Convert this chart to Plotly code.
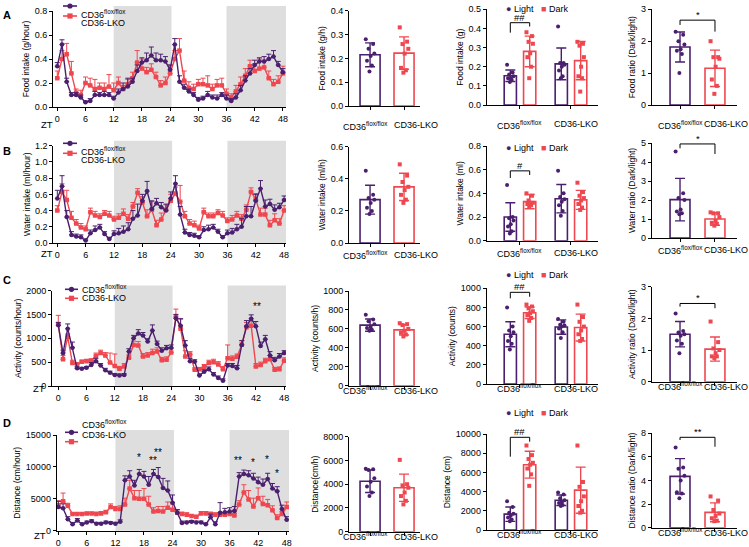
import plotly.graph_objects as go

W, H = 749, 547
PURPLE = "#4a1f6e"
RED = "#ef474f"
SHADE = "#dedede"
FONT = "Liberation Sans, Arial, sans-serif"

# ---------------- time-series data (ZT 0..48) ----------------
ZT = list(range(49))
ZT_TICKS = [0, 6, 12, 18, 24, 30, 36, 42, 48]
DARK_PHASES = [(12, 24), (36, 48)]

FOOD_FLOX = [0.34, 0.52, 0.21, 0.10, 0.10, 0.08, 0.04, 0.05, 0.10, 0.10, 0.10, 0.10,
             0.07, 0.12, 0.15, 0.17, 0.21, 0.30, 0.37, 0.39, 0.43, 0.39, 0.39, 0.38,
             0.31, 0.52, 0.21, 0.16, 0.13, 0.10, 0.06, 0.07, 0.10, 0.08, 0.07, 0.10,
             0.07, 0.05, 0.08, 0.14, 0.22, 0.28, 0.35, 0.38, 0.38, 0.40, 0.42, 0.35, 0.29]
FOOD_FLOX_ERR = [.03, .04, .03, .02, .02, .02, .01, .02, .03, .02, .03, .02,
                 .02, .03, .05, .07, .03, .05, .04, .06, .07, .06, .05, .04,
                 .04, .05, .05, .03, .02, .02, .02, .02, .03, .02, .03, .02,
                 .03, .02, .03, .04, .04, .04, .04, .03, .04, .04, .05, .03, .03]
FOOD_LKO = [0.24, 0.40, 0.44, 0.28, 0.12, 0.10, 0.20, 0.18, 0.15, 0.16, 0.15, 0.17,
            0.14, 0.20, 0.15, 0.19, 0.24, 0.37, 0.32, 0.29, 0.31, 0.25, 0.18, 0.20,
            0.28, 0.40, 0.47, 0.22, 0.16, 0.15, 0.19, 0.19, 0.18, 0.15, 0.18, 0.18,
            0.11, 0.08, 0.13, 0.19, 0.26, 0.34, 0.30, 0.32, 0.33, 0.24, 0.19, 0.21, 0.28]
FOOD_LKO_ERR = [.06, .07, .09, .10, .03, .04, .05, .06, .08, .04, .05, .10,
                .06, .05, .03, .04, .05, .10, .08, .04, .05, .04, .04, .05,
                .07, .07, .10, .08, .05, .04, .04, .05, .08, .04, .05, .06,
                .04, .03, .05, .06, .06, .05, .06, .08, .06, .06, .04, .05, .06]

WATER_FLOX = [0.55, 0.70, 0.32, 0.10, 0.08, 0.07, 0.03, 0.12, 0.16, 0.19, 0.11, 0.05,
              0.11, 0.12, 0.14, 0.17, 0.30, 0.34, 0.52, 0.64, 0.42, 0.49, 0.44, 0.40,
              0.55, 0.73, 0.35, 0.13, 0.10, 0.09, 0.07, 0.16, 0.17, 0.19, 0.14, 0.07,
              0.12, 0.13, 0.17, 0.20, 0.33, 0.33, 0.52, 0.67, 0.45, 0.48, 0.41, 0.44, 0.53]
WATER_FLOX_ERR = [.10, .13, .08, .04, .03, .03, .02, .04, .05, .04, .03, .02,
                  .04, .06, .07, .08, .10, .14, .08, .12, .10, .06, .06, .08,
                  .08, .10, .10, .04, .03, .03, .02, .04, .05, .04, .03, .02,
                  .04, .05, .06, .10, .12, .12, .08, .10, .08, .06, .06, .05, .05]
WATER_LKO = [0.40, 0.63, 0.53, 0.31, 0.24, 0.19, 0.17, 0.38, 0.34, 0.32, 0.36, 0.34,
             0.29, 0.31, 0.36, 0.30, 0.45, 0.62, 0.50, 0.33, 0.41, 0.22, 0.29, 0.41,
             0.52, 0.61, 0.51, 0.33, 0.24, 0.22, 0.18, 0.38, 0.33, 0.33, 0.37, 0.34,
             0.27, 0.29, 0.34, 0.30, 0.41, 0.63, 0.54, 0.35, 0.35, 0.22, 0.28, 0.24, 0.40]
WATER_LKO_ERR = [.06, .10, .12, .08, .05, .05, .04, .05, .05, .04, .04, .05,
                 .04, .05, .06, .05, .05, .05, .07, .08, .10, .06, .08, .06,
                 .08, .08, .20, .06, .05, .05, .04, .05, .04, .04, .04, .05,
                 .04, .05, .05, .05, .06, .05, .07, .08, .08, .06, .08, .06, .06]

ACT_FLOX = [1270, 690, 1200, 800, 370, 360, 380, 440, 520, 430, 330, 280,
            230, 220, 230, 720, 1000, 1100, 1060, 930, 1160, 880, 740, 790,
            800, 1420, 1260, 850, 520, 510, 220, 300, 350, 240, 170, 110,
            430, 420, 370, 860, 1250, 1410, 1250, 840, 980, 640, 540, 620, 690]
ACT_FLOX_ERR = [60, 60, 100, 120, 30, 30, 30, 50, 60, 40, 40, 30,
                30, 30, 30, 60, 60, 80, 60, 60, 120, 60, 60, 60,
                60, 80, 150, 100, 60, 40, 30, 40, 50, 40, 40, 40,
                40, 50, 60, 90, 120, 80, 100, 80, 80, 80, 60, 60, 50]
ACT_LKO = [1300, 560, 1030, 480, 450, 510, 520, 530, 630, 690, 640, 490,
           420, 360, 410, 590, 860, 850, 620, 640, 690, 720, 540, 550,
           700, 1460, 1200, 620, 660, 340, 350, 400, 480, 500, 450, 350,
           580, 570, 610, 870, 1230, 1260, 410, 440, 520, 560, 340, 350, 530]
ACT_LKO_ERR = [180, 80, 60, 60, 40, 30, 40, 40, 60, 60, 60, 200,
               250, 50, 60, 60, 80, 80, 60, 60, 80, 80, 60, 60,
               80, 150, 200, 120, 60, 40, 40, 50, 60, 60, 60, 60,
               280, 60, 60, 80, 100, 100, 60, 60, 60, 80, 50, 50, 60]

DIST_FLOX = [3700, 3500, 1800, 1000, 1600, 1000, 1300, 1500, 1100, 1100, 1300, 1200,
             1100, 1400, 7900, 8500, 7100, 8900, 8500, 7200, 8900, 8400, 6700, 6300,
             4400, 2800, 1200, 1300, 1400, 1300, 1300, 1000, 2100, 1000, 2800, 2900,
             3000, 3100, 8500, 8900, 8700, 8200, 7600, 7200, 8100, 6600, 6200, 3400, 1700]
DIST_FLOX_ERR = [900, 700, 400, 300, 300, 200, 200, 200, 200, 200, 200, 200,
                 200, 300, 700, 900, 800, 700, 800, 1300, 700, 1500, 1500, 1500,
                 1200, 500, 300, 200, 200, 200, 200, 200, 500, 400, 1600, 600,
                 600, 700, 600, 600, 700, 800, 800, 900, 900, 800, 700, 600, 500]
DIST_LKO = [4000, 4600, 3900, 2600, 2600, 2600, 2700, 2700, 2600, 2700, 2900, 3700,
            3400, 3400, 4100, 6600, 5100, 5000, 5000, 4100, 3000, 3100, 3000, 3600,
            3300, 2800, 2600, 2500, 2300, 2200, 2700, 2700, 2600, 2500, 2500, 2500,
            2600, 2400, 4100, 6000, 4900, 3800, 5100, 4200, 4000, 3200, 2000, 2600, 3700]
DIST_LKO_ERR = [700, 1300, 400, 200, 200, 200, 200, 200, 300, 300, 300, 500,
                400, 500, 1000, 1300, 1200, 1300, 1600, 1300, 600, 700, 800, 900,
                900, 500, 300, 300, 200, 200, 300, 300, 300, 300, 300, 300,
                300, 300, 600, 1200, 1400, 1300, 1600, 1200, 900, 700, 500, 400, 800]

# ---------------- bar-panel data ----------------
GROUPS = ["CD36<sup>flox/flox</sup>", "CD36-LKO"]
SERIES = ["CD36<sup>flox/flox</sup>", "CD36-LKO"]
PHASES = ["Light", "Dark"]

FOOD_H_MEAN = [0.215, 0.222]
FOOD_H_SD = [0.050, 0.068]
FOOD_H_PTS = [[0.28, 0.26, 0.24, 0.22, 0.21, 0.19, 0.17, 0.145],
              [0.33, 0.27, 0.26, 0.24, 0.22, 0.16, 0.15, 0.14]]
FOOD_LD_MEAN = [[0.153, 0.280], [0.215, 0.232]]
FOOD_LD_SD = [[0.030, 0.080], [0.083, 0.100]]
FOOD_LD_PTS = [[[0.21, 0.17, 0.16, 0.15, 0.14, 0.14, 0.13, 0.12],
                [0.38, 0.36, 0.33, 0.32, 0.27, 0.25, 0.20, 0.14]],
               [[0.41, 0.22, 0.22, 0.21, 0.20, 0.18, 0.15, 0.14],
                [0.33, 0.32, 0.31, 0.25, 0.20, 0.15, 0.14, 0.07]]]
FOOD_R_MEAN = [1.82, 1.15]
FOOD_R_SD = [0.47, 0.57]
FOOD_R_PTS = [[2.30, 2.20, 2.00, 1.90, 1.75, 1.70, 1.60, 1.00],
              [2.00, 1.50, 1.50, 1.45, 1.20, 0.80, 0.60, 0.35]]

WATER_H_MEAN = [0.27, 0.35]
WATER_H_SD = [0.09, 0.085]
WATER_H_PTS = [[0.45, 0.30, 0.28, 0.27, 0.25, 0.22, 0.20, 0.18],
               [0.49, 0.42, 0.38, 0.35, 0.33, 0.30, 0.27, 0.25]]
WATER_LD_MEAN = [[0.20, 0.33], [0.355, 0.345]]
WATER_LD_SD = [[0.12, 0.06], [0.12, 0.08]]
WATER_LD_PTS = [[[0.47, 0.20, 0.19, 0.17, 0.14, 0.12, 0.08, 0.06],
                 [0.40, 0.38, 0.34, 0.32, 0.32, 0.31, 0.30, 0.29]],
                [[0.59, 0.40, 0.37, 0.35, 0.33, 0.30, 0.25, 0.21],
                 [0.49, 0.41, 0.38, 0.36, 0.34, 0.31, 0.28, 0.26]]]
WATER_R_MEAN = [2.02, 1.00]
WATER_R_SD = [1.12, 0.33]
WATER_R_PTS = [[4.55, 2.35, 2.10, 2.00, 1.50, 1.40, 1.30, 1.25],
               [1.35, 1.30, 1.30, 1.10, 0.90, 0.80, 0.75, 0.65]]

ACT_H_MEAN = [640, 590]
ACT_H_SD = [65, 55]
ACT_H_PTS = [[750, 700, 680, 650, 620, 610, 590, 580],
             [660, 650, 640, 600, 580, 560, 540, 520]]
ACT_LD_MEAN = [[520, 745], [595, 590]]
ACT_LD_SD = [[130, 60], [75, 140]]
ACT_LD_PTS = [[[800, 600, 560, 540, 500, 450, 420, 360],
               [830, 810, 790, 760, 740, 720, 690, 660]],
              [[680, 650, 620, 610, 600, 580, 540, 480],
               [830, 700, 650, 600, 560, 520, 470, 450]]]
ACT_R_MEAN = [1.50, 1.03]
ACT_R_SD = [0.40, 0.38]
ACT_R_PTS = [[2.15, 1.60, 1.55, 1.50, 1.45, 1.30, 1.20, 0.90],
             [1.90, 1.25, 1.05, 1.00, 0.90, 0.80, 0.80, 0.75]]

DIST_H_MEAN = [4250, 3700]
DIST_H_SD = [950, 1150]
DIST_H_PTS = [[5300, 5250, 5200, 4500, 4200, 3800, 3300, 3000],
              [6050, 4000, 3900, 3700, 3300, 3000, 2600, 2300]]
DIST_LD_MEAN = [[1650, 6800], [3100, 4150]]
DIST_LD_SD = [[750, 1400], [550, 2400]]
DIST_LD_PTS = [[[3000, 2400, 1800, 1700, 1500, 1300, 1100, 900],
                [8800, 7800, 7400, 7000, 6800, 6400, 5800, 4600]],
               [[3900, 3700, 3300, 3100, 2900, 2800, 2600, 2500],
                [8800, 5000, 4500, 3500, 3000, 2500, 2000, 1800]]]
DIST_R_MEAN = [4.35, 1.30]
DIST_R_SD = [1.50, 0.80]
DIST_R_PTS = [[6.80, 5.10, 5.00, 4.40, 4.00, 3.00, 2.90, 2.50],
              [2.65, 2.30, 1.50, 1.20, 1.00, 0.80, 0.60, 0.55]]

# ---------------- figure scaffolding ----------------
fig = go.Figure()
layout = dict(
    width=W, height=H, autosize=False,
    margin=dict(l=0, r=0, t=0, b=0, pad=0, autoexpand=False),
    paper_bgcolor="white", plot_bgcolor="rgba(0,0,0,0)",
    font=dict(family=FONT, size=9, color="black"),
    barmode="overlay", showlegend=False,
)
shapes, annots = [], []
_n = [0]


def px_x(v):
    return v / W


def px_y(v):
    return 1 - v / H


def new_axes(xpx, ypx, xrange, yrange, dtick, fmt, title, xtickvals, xticktext, showlab):
    _n[0] += 1
    n = _n[0]
    sx = "" if n == 1 else str(n)
    layout["xaxis" + sx] = dict(
        domain=[px_x(xpx[0]), px_x(xpx[1])], range=xrange, anchor="y" + sx,
        showline=True, linecolor="black", linewidth=1, ticks="outside",
        ticklen=3, tickwidth=1, tickcolor="black", showgrid=False, zeroline=False,
        tickvals=xtickvals, ticktext=xticktext, tickfont=dict(size=9),
        showticklabels=showlab, tickangle=0, automargin=False, fixedrange=True)
    layout["yaxis" + sx] = dict(
        domain=[px_y(ypx[1]), px_y(ypx[0])], range=yrange, anchor="x" + sx,
        showline=True, linecolor="black", linewidth=1, ticks="outside",
        ticklen=3, tickwidth=1, tickcolor="black", showgrid=False, zeroline=False,
        dtick=dtick, tick0=0, tickformat=fmt, tickfont=dict(size=9),
        title=dict(text=title, font=dict(size=8.5), standoff=3),
        automargin=False, fixedrange=True)
    return "x" + sx, "y" + sx


JIT = [-0.14, 0.10, -0.05, 0.14, 0.02, -0.10, 0.06, -0.02]

# ---------------- geometry (pixels) ----------------
TS_GEOM = [((53, 286), [-0.91, 48.66], (11, 107)),
           ((53.3, 286), [-0.85, 48.4], (145.7, 243)),
           ((52, 286), [-1.34, 48.4], (290.5, 386)),
           ((56.7, 289), [-0.34, 48.48], (435, 530.7))]
B1_X = ((349, 420), [-0.62, 1.47])
B2_X = ((486.7, 598), [-0.653, 1.53])
B3_X = ((651.7, 737), [-0.81, 1.63])
B1_Y = [(10.7, 106), (146.7, 243), (291, 385.7), (436.7, 531.7)]
B2_Y = [(9.3, 105), (146, 240.7), (288.3, 384), (434, 530)]
B3_Y = [(9.3, 105), (143, 238), (286.7, 381.7), (433.3, 527.7)]
LETTER_Y = [7, 143, 280, 431]
ZT_XY = [(39, 117.5), (39, 253), (31, 395.5), (32, 543)]
LD_LEG_Y = [1.5, 141, 275, 420]
TS_LEG = [(63, 77, 6, 16), (63, 77, 143.3, 153.3), (65, 78, 289.3, 298.3),
          (65, 78, 432.3, 441.7)]
B1_LABEL_SHIFT = [-5, 12]
B2_LABEL_SHIFT = [0, 5]
B3_LABEL_SHIFT = [0, 11]

ROWS = [
    dict(letter="A", ts=(FOOD_FLOX, FOOD_FLOX_ERR, FOOD_LKO, FOOD_LKO_ERR),
         ts_y=[0, 0.8], ts_dt=0.2, ts_fmt=".1f", ts_title="Food intake (g/hour)",
         b1=(FOOD_H_MEAN, FOOD_H_SD, FOOD_H_PTS), b1_y=[0, 0.4], b1_dt=0.1, b1_fmt=".1f",
         b1_title="Food intake (g/h)",
         b2=(FOOD_LD_MEAN, FOOD_LD_SD, FOOD_LD_PTS), b2_y=[0, 0.5], b2_dt=0.1, b2_fmt=".1f",
         b2_title="Food intake (g)",
         b3=(FOOD_R_MEAN, FOOD_R_SD, FOOD_R_PTS), b3_y=[0, 3], b3_dt=1, b3_fmt="d",
         b3_title="Food ratio (Dark/light)",
         br2=(0.43, 0.378, 0.41, "##"), br3=(2.66, 2.51, 2.30, "*"),
         stars=[]),
    dict(letter="B", ts=(WATER_FLOX, WATER_FLOX_ERR, WATER_LKO, WATER_LKO_ERR),
         ts_y=[0, 1.2], ts_dt=0.2, ts_fmt=".1f", ts_title="Water intake (ml/hour)",
         b1=(WATER_H_MEAN, WATER_H_SD, WATER_H_PTS), b1_y=[0, 0.6], b1_dt=0.2, b1_fmt=".1f",
         b1_title="Water intake (ml/h)",
         b2=(WATER_LD_MEAN, WATER_LD_SD, WATER_LD_PTS), b2_y=[0, 0.8], b2_dt=0.2, b2_fmt=".1f",
         b2_title="Water intake (ml)",
         b3=(WATER_R_MEAN, WATER_R_SD, WATER_R_PTS), b3_y=[0, 5], b3_dt=1, b3_fmt="d",
         b3_title="Water ratio (Dark/light)",
         br2=(0.59, 0.53, 0.555, "#"), br3=(4.95, 4.72, 4.42, "*"),
         stars=[]),
    dict(letter="C", ts=(ACT_FLOX, ACT_FLOX_ERR, ACT_LKO, ACT_LKO_ERR),
         ts_y=[0, 2000], ts_dt=500, ts_fmt="d", ts_title="Activity (counts/hour)",
         b1=(ACT_H_MEAN, ACT_H_SD, ACT_H_PTS), b1_y=[0, 1000], b1_dt=200, b1_fmt="d",
         b1_title="Activity (counts/h)",
         b2=(ACT_LD_MEAN, ACT_LD_SD, ACT_LD_PTS), b2_y=[0, 1000], b2_dt=200, b2_fmt="d",
         b2_title="Activity (counts)",
         b3=(ACT_R_MEAN, ACT_R_SD, ACT_R_PTS), b3_y=[0, 3], b3_dt=1, b3_fmt="d",
         b3_title="Activity ratio (Dark/light)",
         br2=(958, 895, 912, "##"), br3=(2.47, 2.37, 2.32, "*"),
         stars=[(42.3, 1500, "**")]),
    dict(letter="D", ts=(DIST_FLOX, DIST_FLOX_ERR, DIST_LKO, DIST_LKO_ERR),
         ts_y=[0, 15000], ts_dt=5000, ts_fmt="d", ts_title="Distance (cm/hour)",
         b1=(DIST_H_MEAN, DIST_H_SD, DIST_H_PTS), b1_y=[0, 8000], b1_dt=2000, b1_fmt="d",
         b1_title="Distance(cm/h)",
         b2=(DIST_LD_MEAN, DIST_LD_SD, DIST_LD_PTS), b2_y=[0, 10000], b2_dt=2000, b2_fmt="d",
         b2_title="Distance (cm)",
         b3=(DIST_R_MEAN, DIST_R_SD, DIST_R_PTS), b3_y=[0, 8], b3_dt=2, b3_fmt="d",
         b3_title="Distance ratio (Dark/light)",
         br2=(9656, 7635, 9200, "##"), br3=(7.66, 7.43, 6.86, "**"),
         stars=[(17, 10300, "*"), (19.8, 9900, "**"), (21, 11100, "**"),
                (37.8, 9800, "**"), (41, 9500, "*"), (43.8, 10000, "*"), (45.9, 7800, "*")]),
]


def add_bar(xa, ya, x, mean, sd, pts, color, symbol, bw, jscale):
    fig.add_trace(go.Bar(
        x=[x], y=[mean], width=bw, xaxis=xa, yaxis=ya, showlegend=False,
        marker=dict(color="white", line=dict(color=color, width=1.6)),
        error_y=dict(type="data", array=[sd], color=color, thickness=1.4, width=5),
        hoverinfo="skip"))
    fig.add_trace(go.Scatter(
        x=[x + j * jscale for j in JIT[:len(pts)]], y=pts, mode="markers",
        xaxis=xa, yaxis=ya, showlegend=False, cliponaxis=False,
        marker=dict(color=color, size=4, symbol=symbol), hoverinfo="skip"))


def add_bracket(xa, ya, x0, x1, top, leg0, leg1, label):
    shapes.append(dict(type="path", xref=xa, yref=ya,
                       path=f"M {x0},{leg0} L {x0},{top} L {x1},{top} L {x1},{leg1}",
                       line=dict(color="black", width=1)))
    annots.append(dict(x=(x0 + x1) / 2, y=top, xref=xa, yref=ya, text=label,
                       showarrow=False, yanchor="bottom", yshift=-2,
                       font=dict(size=9.5, color="black")))


def add_cat_labels(xa, axis_px, xs, shifts):
    for g in range(2):
        annots.append(dict(x=xs[g], y=px_y(axis_px + 12), xref=xa, yref="paper",
                           text=GROUPS[g], showarrow=False, xshift=shifts[g],
                           font=dict(size=9, color="black")))


for r, row in enumerate(ROWS):
    # ---- time series ----
    xpx, xr, ypx = TS_GEOM[r]
    xa, ya = new_axes(xpx, ypx, xr, row["ts_y"], row["ts_dt"], row["ts_fmt"],
                      row["ts_title"], ZT_TICKS, [str(t) for t in ZT_TICKS], True)
    ext = 1 + 5 / (ypx[1] - ypx[0])
    for (d0, d1) in DARK_PHASES:
        shapes.append(dict(type="rect", xref=xa, yref=ya + " domain",
                           x0=d0, x1=(d1 + 0.3) if d1 < 48 else xr[1],
                           y0=0, y1=ext, fillcolor=SHADE, line=dict(width=0),
                           layer="below"))
    flox, flox_e, lko, lko_e = row["ts"]
    fig.add_trace(go.Scatter(
        x=ZT, y=lko, mode="lines+markers", name=SERIES[1],
        xaxis=xa, yaxis=ya, line=dict(color=RED, width=1.4),
        marker=dict(symbol="square", size=4.5, color=RED),
        error_y=dict(type="data", symmetric=False, array=lko_e,
                     arrayminus=[0] * len(lko_e), color=RED, thickness=1, width=2.5)))
    fig.add_trace(go.Scatter(
        x=ZT, y=flox, mode="lines+markers", name=SERIES[0],
        xaxis=xa, yaxis=ya, line=dict(color=PURPLE, width=1.4),
        marker=dict(symbol="circle", size=4.5, color=PURPLE),
        error_y=dict(type="data", symmetric=False, array=flox_e,
                     arrayminus=[0] * len(flox_e), color=PURPLE, thickness=1, width=2.5)))
    # legend key (line + symbol + label)
    lx0, lx1, ly0, ly1 = TS_LEG[r]
    for k, (ly, col, sym) in enumerate([(ly0, PURPLE, "circle"), (ly1, RED, "square")]):
        shapes.append(dict(type="line", xref="paper", yref="paper",
                           x0=px_x(lx0), x1=px_x(lx1), y0=px_y(ly), y1=px_y(ly),
                           line=dict(color=col, width=1.6)))
        cx = (lx0 + lx1) / 2
        shapes.append(dict(type="circle" if sym == "circle" else "rect",
                           xref="paper", yref="paper",
                           x0=px_x(cx - 2.6), x1=px_x(cx + 2.6),
                           y0=px_y(ly + 2.6), y1=px_y(ly - 2.6),
                           fillcolor=col, line=dict(width=0)))
        annots.append(dict(x=px_x(lx1 + 2), y=px_y(ly), xref="paper", yref="paper",
                           xanchor="left", text=SERIES[k], showarrow=False,
                           font=dict(size=9, color="black")))
    for (sx, sy, st) in row["stars"]:
        annots.append(dict(x=sx, y=sy, xref=xa, yref=ya, text=st, showarrow=False,
                           yanchor="bottom", font=dict(size=10, color="black")))
    zx, zy = ZT_XY[r]
    annots.append(dict(x=px_x(zx), y=px_y(zy), xref="paper", yref="paper",
                       text="ZT", showarrow=False, font=dict(size=9.5, color="black")))
    annots.append(dict(x=px_x(1), y=px_y(LETTER_Y[r]), xref="paper", yref="paper",
                       text=f"<b>{row['letter']}</b>", showarrow=False, xanchor="left",
                       font=dict(size=11, color="black")))

    # ---- bar panel 1 ----
    xa, ya = new_axes(B1_X[0], B1_Y[r], B1_X[1], row["b1_y"], row["b1_dt"], row["b1_fmt"],
                      row["b1_title"], [0, 1], GROUPS, False)
    m, s, p = row["b1"]
    for g in range(2):
        add_bar(xa, ya, g, m[g], s[g], p[g], [PURPLE, RED][g], ["circle", "square"][g],
                0.59, 0.9)
    add_cat_labels(xa, B1_Y[r][1], [0, 1], B1_LABEL_SHIFT)

    # ---- bar panel 2 (light / dark) ----
    xa, ya = new_axes(B2_X[0], B2_Y[r], B2_X[1], row["b2_y"], row["b2_dt"], row["b2_fmt"],
                      row["b2_title"], [0, 1], GROUPS, False)
    m, s, p = row["b2"]
    off = 0.19
    for g in range(2):
        for ph in range(2):
            add_bar(xa, ya, g + (2 * ph - 1) * off, m[g][ph], s[g][ph], p[g][ph],
                    [PURPLE, RED][ph], ["circle", "square"][ph], 0.24, 0.45)
    top, l0, l1, lab = row["br2"]
    add_bracket(xa, ya, -off, off, top, l0, l1, lab)
    add_cat_labels(xa, B2_Y[r][1], [0, 1], B2_LABEL_SHIFT)
    sp = "\u00a0"
    annots.append(dict(
        x=px_x(504), y=px_y(LD_LEG_Y[r]), xref="paper", yref="paper", xanchor="left",
        showarrow=False, font=dict(size=9, color="black"),
        text=f"<span style='color:{PURPLE}'>●</span>{sp}{PHASES[0]}{sp * 3}"
             f"<span style='color:{RED}'>■</span>{sp}{PHASES[1]}"))

    # ---- bar panel 3 (ratio) ----
    xa, ya = new_axes(B3_X[0], B3_Y[r], B3_X[1], row["b3_y"], row["b3_dt"], row["b3_fmt"],
                      row["b3_title"], [0, 1], GROUPS, False)
    m, s, p = row["b3"]
    for g in range(2):
        add_bar(xa, ya, g, m[g], s[g], p[g], [PURPLE, RED][g], ["circle", "square"][g],
                0.57, 0.9)
    top, l0, l1, lab = row["br3"]
    add_bracket(xa, ya, 0, 1, top, l0, l1, lab)
    add_cat_labels(xa, B3_Y[r][1], [0, 1], B3_LABEL_SHIFT)

layout["shapes"] = shapes
layout["annotations"] = annots
fig.update_layout(**layout)
fig.write_html("out.html",
               config={"displayModeBar": False},
               post_script="document.body.style.margin='0';"
                           "document.body.style.padding='0';"
                           "document.body.style.overflow='hidden';")
